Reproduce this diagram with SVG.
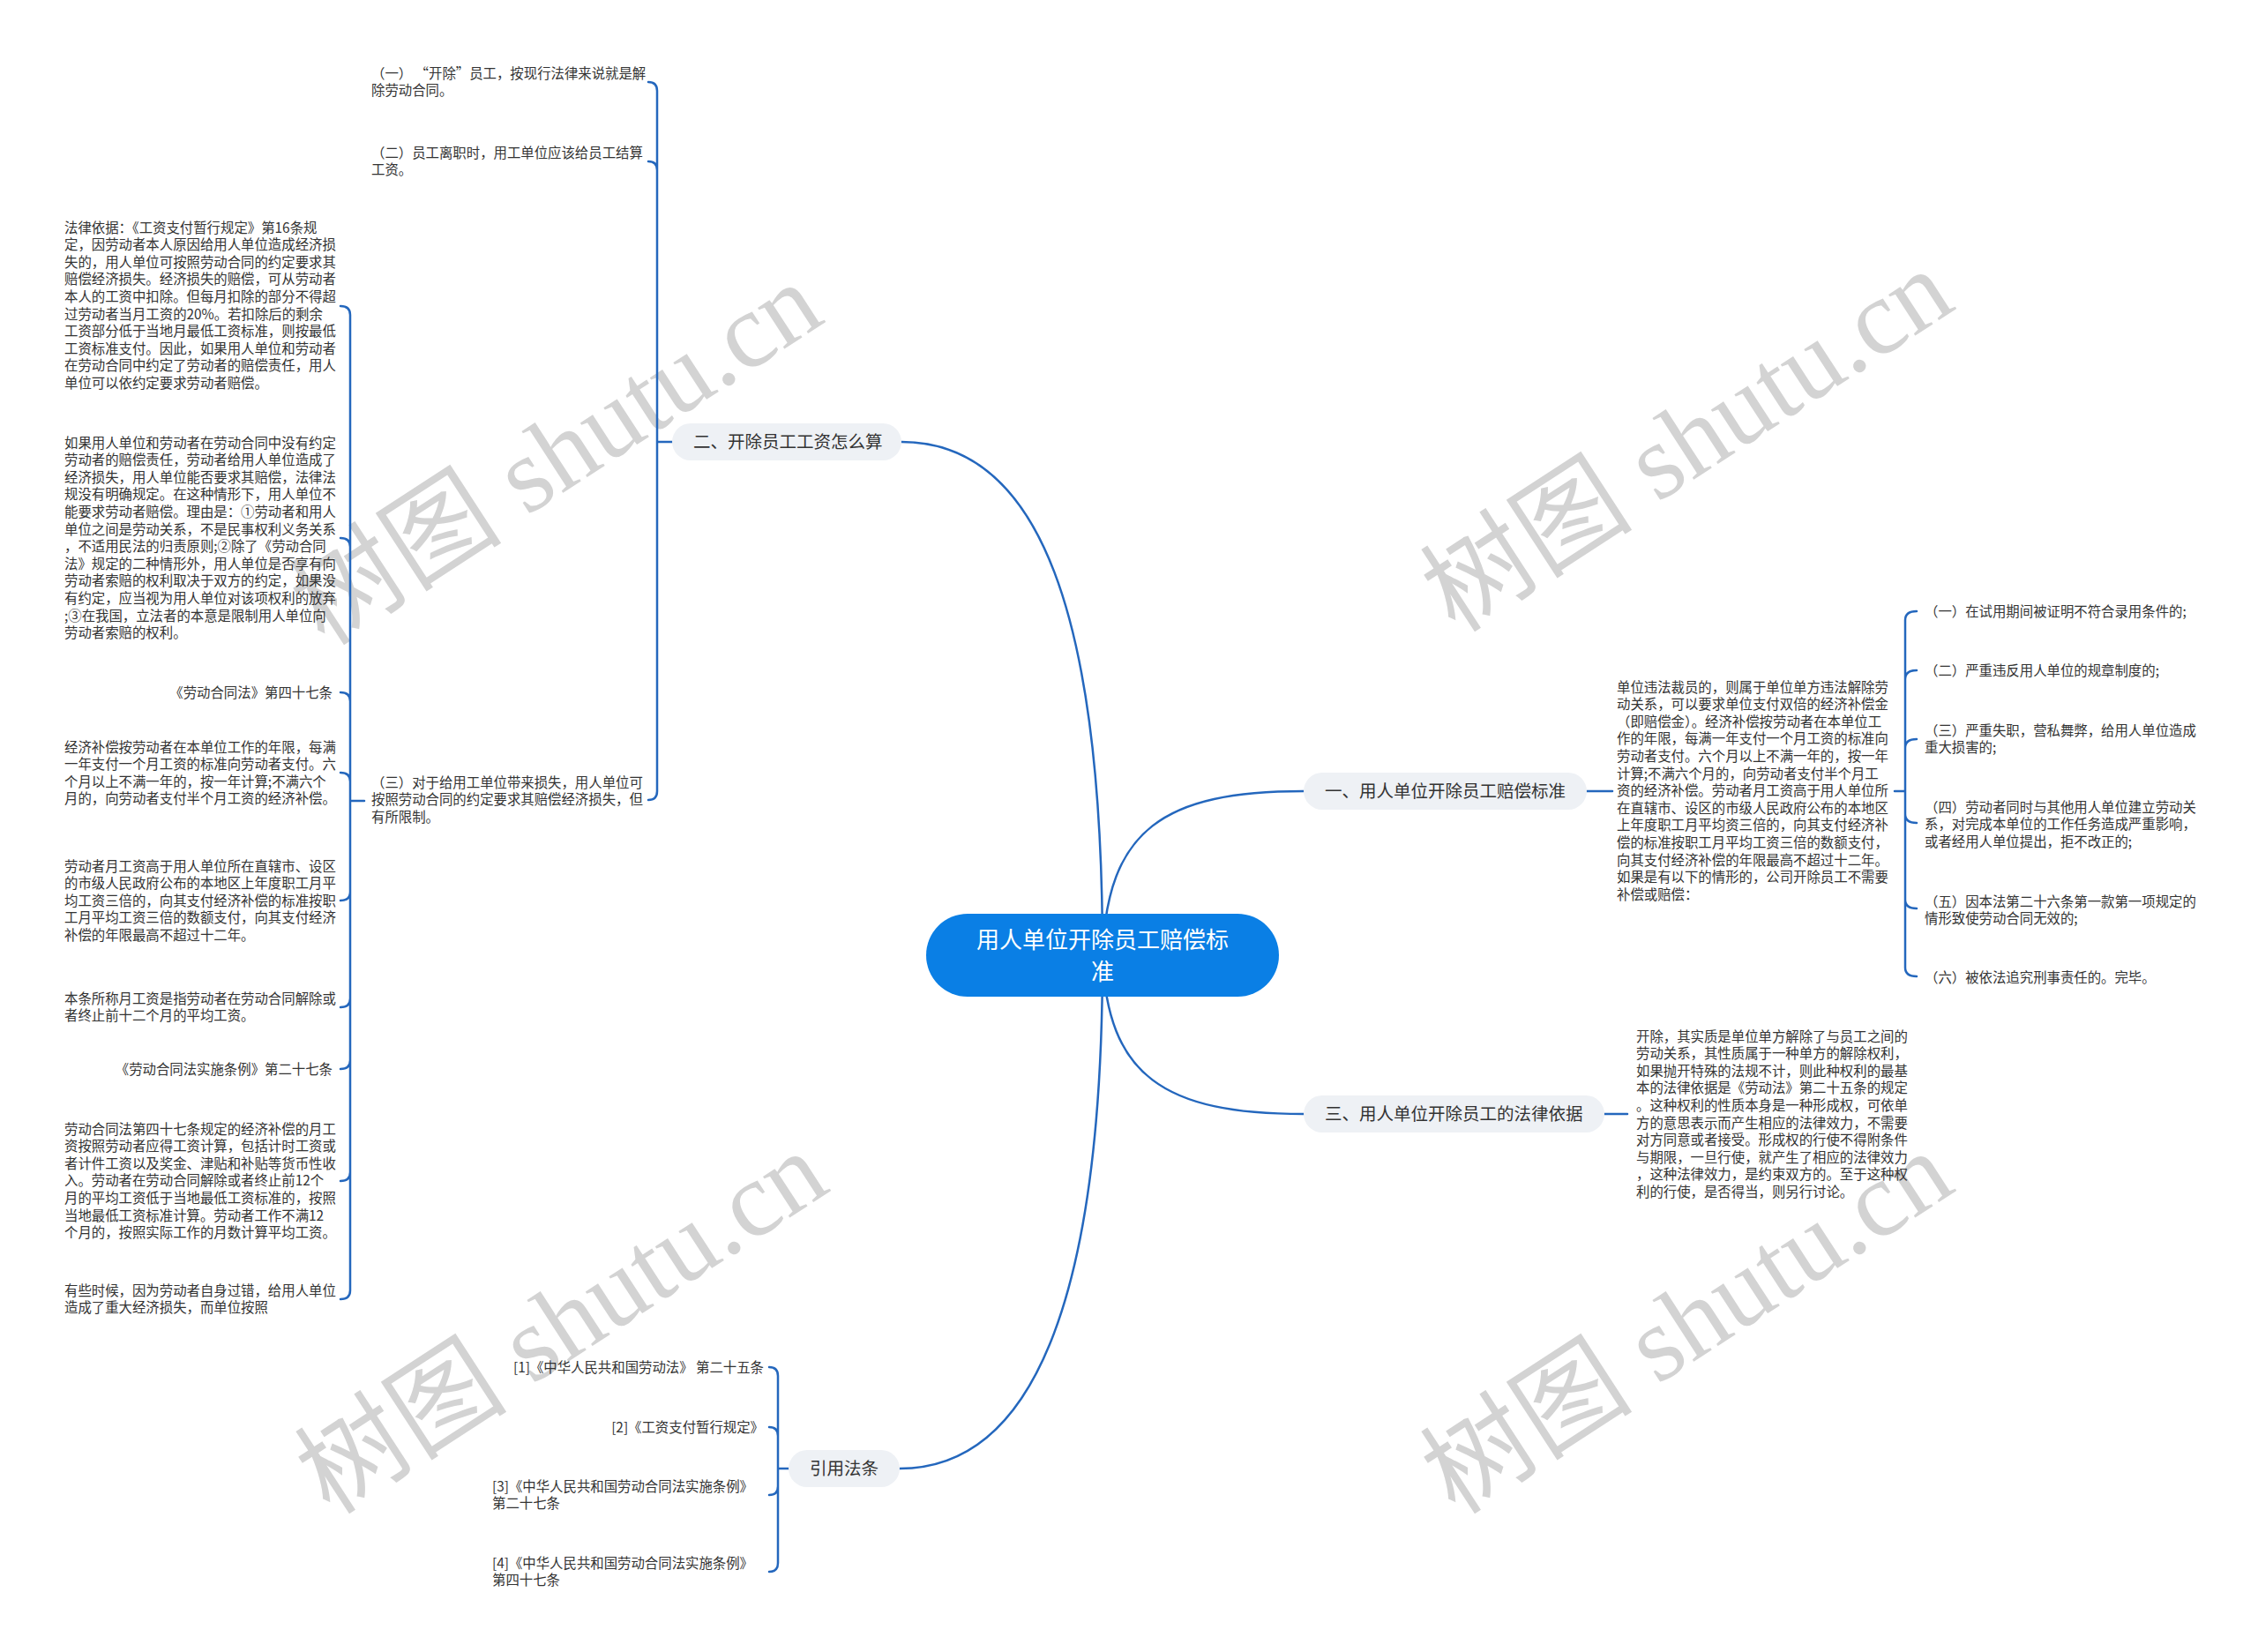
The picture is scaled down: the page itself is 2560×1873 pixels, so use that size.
<svg xmlns="http://www.w3.org/2000/svg" width="2560" height="1873" viewBox="0 0 2560 1873">
<style>
.t{font-family:"Noto Sans CJK SC","Noto Sans",sans-serif;font-size:15.4px;fill:#333}
.p{font-family:"Noto Sans CJK SC","Noto Sans",sans-serif;font-size:19.5px;fill:#333}
.pill{fill:#eef1f5}
.c{fill:none;stroke:#2467bd;stroke-width:2.5;stroke-linecap:round}
.wm{font-family:"Liberation Serif","Noto Sans CJK SC",serif;font-size:121px;fill:#d3d3d3}
</style>
<rect width="2560" height="1873" fill="#fff"/>
<g id="watermarks">
<text class="wm" text-anchor="middle" transform="translate(653,549) rotate(-33)">树图 shutu.cn</text>
<text class="wm" text-anchor="middle" transform="translate(1935,534) rotate(-33)">树图 shutu.cn</text>
<text class="wm" text-anchor="middle" transform="translate(659,1534) rotate(-33)">树图 shutu.cn</text>
<text class="wm" text-anchor="middle" transform="translate(1935,1534) rotate(-33)">树图 shutu.cn</text>
</g>
<g id="connectors">
<path class="c" d="M1250,1083 C1250,700 1180,501 1022,501"/>
<path class="c" d="M1250,1083 C1255,940 1320,897 1478,897"/>
<path class="c" d="M1250,1083 C1255,1220 1320,1263 1478,1263"/>
<path class="c" d="M1250,1083 C1250,1450 1180,1665 1020,1665"/>
<path class="c" d="M762,501 H745 M745,103 V897 M735,93 Q745,93 745,103 M735,183 Q745,183 745,193 M735,907 Q745,907 745,897"/>
<path class="c" d="M413,908 H397 M397,357 V1463 M386,347 Q397,347 397,357 M386,610 Q397,610 397,620 M386,785 Q397,785 397,795 M386,876 Q397,876 397,886 M386,1021 Q397,1021 397,1011 M386,1142 Q397,1142 397,1132 M386,1212 Q397,1212 397,1202 M386,1339 Q397,1339 397,1329 M386,1473 Q397,1473 397,1463"/>
<path class="c" d="M1799,897 H1828"/>
<path class="c" d="M2148,897 H2160 M2160,703 V1097 M2173,693 Q2160,693 2160,703 M2173,760 Q2160,760 2160,770 M2173,838 Q2160,838 2160,848 M2173,933 Q2160,933 2160,923 M2173,1030 Q2160,1030 2160,1020 M2173,1107 Q2160,1107 2160,1097"/>
<path class="c" d="M1819,1263 H1845"/>
<path class="c" d="M894,1665 H882 M882,1560 V1772 M872,1550 Q882,1550 882,1560 M872,1618 Q882,1618 882,1628 M872,1695 Q882,1695 882,1685 M872,1782 Q882,1782 882,1772"/>
</g>
<g id="center">
<rect x="1050" y="1036" width="400" height="94" rx="47" fill="#0a7fe5"/>
<text x="1250" y="1075" text-anchor="middle" font-family="Noto Sans CJK SC, sans-serif" font-size="26" fill="#fff">用人单位开除员工赔偿标</text>
<text x="1250" y="1111" text-anchor="middle" font-family="Noto Sans CJK SC, sans-serif" font-size="26" fill="#fff">准</text>
</g>
<g id="b2">
<rect class="pill" x="762" y="480" width="260" height="42" rx="21"/>
<text class="p" x="786" y="508">二、开除员工工资怎么算</text>
</g>
<g id="b1">
<rect class="pill" x="1478" y="876" width="321" height="42" rx="21"/>
<text class="p" x="1502" y="904">一、用人单位开除员工赔偿标准</text>
</g>
<g id="b3">
<rect class="pill" x="1478" y="1242" width="341" height="42" rx="21"/>
<text class="p" x="1502" y="1270">三、用人单位开除员工的法律依据</text>
</g>
<g id="b4">
<rect class="pill" x="894" y="1644" width="126" height="42" rx="21"/>
<text class="p" x="918" y="1672">引用法条</text>
</g>
<g id="n2-1"><text class="t" x="421" y="88.5"><tspan x="421">（一） “开除”员工，按现行法律来说就是解</tspan><tspan x="421" dy="19.6">除劳动合同。</tspan></text></g>
<g id="n2-2"><text class="t" x="421" y="178.5"><tspan x="421">（二）员工离职时，用工单位应该给员工结算</tspan><tspan x="421" dy="19.6">工资。</tspan></text></g>
<g id="n2-3"><text class="t" x="421" y="892.5"><tspan x="421">（三）对于给用工单位带来损失，用人单位可</tspan><tspan x="421" dy="19.6">按照劳动合同的约定要求其赔偿经济损失，但</tspan><tspan x="421" dy="19.6">有所限制。</tspan></text></g>
<g id="n3-1"><text class="t" x="73" y="263.5"><tspan x="73">法律依据：《工资支付暂行规定》第16条规</tspan><tspan x="73" dy="19.6">定，因劳动者本人原因给用人单位造成经济损</tspan><tspan x="73" dy="19.6">失的，用人单位可按照劳动合同的约定要求其</tspan><tspan x="73" dy="19.6">赔偿经济损失。经济损失的赔偿，可从劳动者</tspan><tspan x="73" dy="19.6">本人的工资中扣除。但每月扣除的部分不得超</tspan><tspan x="73" dy="19.6">过劳动者当月工资的20%。若扣除后的剩余</tspan><tspan x="73" dy="19.6">工资部分低于当地月最低工资标准，则按最低</tspan><tspan x="73" dy="19.6">工资标准支付。因此，如果用人单位和劳动者</tspan><tspan x="73" dy="19.6">在劳动合同中约定了劳动者的赔偿责任，用人</tspan><tspan x="73" dy="19.6">单位可以依约定要求劳动者赔偿。</tspan></text></g>
<g id="n3-2"><text class="t" x="73" y="507.5"><tspan x="73">如果用人单位和劳动者在劳动合同中没有约定</tspan><tspan x="73" dy="19.6">劳动者的赔偿责任，劳动者给用人单位造成了</tspan><tspan x="73" dy="19.6">经济损失，用人单位能否要求其赔偿，法律法</tspan><tspan x="73" dy="19.6">规没有明确规定。在这种情形下，用人单位不</tspan><tspan x="73" dy="19.6">能要求劳动者赔偿。理由是：①劳动者和用人</tspan><tspan x="73" dy="19.6">单位之间是劳动关系，不是民事权利义务关系</tspan><tspan x="73" dy="19.6">，不适用民法的归责原则;②除了《劳动合同</tspan><tspan x="73" dy="19.6">法》规定的二种情形外，用人单位是否享有向</tspan><tspan x="73" dy="19.6">劳动者索赔的权利取决于双方的约定，如果没</tspan><tspan x="73" dy="19.6">有约定，应当视为用人单位对该项权利的放弃</tspan><tspan x="73" dy="19.6">;③在我国，立法者的本意是限制用人单位向</tspan><tspan x="73" dy="19.6">劳动者索赔的权利。</tspan></text></g>
<g id="n3-3"><text class="t" x="377" y="790.5" text-anchor="end">《劳动合同法》第四十七条</text></g>
<g id="n3-4"><text class="t" x="73" y="852.5"><tspan x="73">经济补偿按劳动者在本单位工作的年限，每满</tspan><tspan x="73" dy="19.6">一年支付一个月工资的标准向劳动者支付。六</tspan><tspan x="73" dy="19.6">个月以上不满一年的，按一年计算;不满六个</tspan><tspan x="73" dy="19.6">月的，向劳动者支付半个月工资的经济补偿。</tspan></text></g>
<g id="n3-5"><text class="t" x="73" y="987.5"><tspan x="73">劳动者月工资高于用人单位所在直辖市、设区</tspan><tspan x="73" dy="19.6">的市级人民政府公布的本地区上年度职工月平</tspan><tspan x="73" dy="19.6">均工资三倍的，向其支付经济补偿的标准按职</tspan><tspan x="73" dy="19.6">工月平均工资三倍的数额支付，向其支付经济</tspan><tspan x="73" dy="19.6">补偿的年限最高不超过十二年。</tspan></text></g>
<g id="n3-6"><text class="t" x="73" y="1137.5"><tspan x="73">本条所称月工资是指劳动者在劳动合同解除或</tspan><tspan x="73" dy="19.6">者终止前十二个月的平均工资。</tspan></text></g>
<g id="n3-7"><text class="t" x="377" y="1217.5" text-anchor="end">《劳动合同法实施条例》第二十七条</text></g>
<g id="n3-8"><text class="t" x="73" y="1285.5"><tspan x="73">劳动合同法第四十七条规定的经济补偿的月工</tspan><tspan x="73" dy="19.6">资按照劳动者应得工资计算，包括计时工资或</tspan><tspan x="73" dy="19.6">者计件工资以及奖金、津贴和补贴等货币性收</tspan><tspan x="73" dy="19.6">入。劳动者在劳动合同解除或者终止前12个</tspan><tspan x="73" dy="19.6">月的平均工资低于当地最低工资标准的，按照</tspan><tspan x="73" dy="19.6">当地最低工资标准计算。劳动者工作不满12</tspan><tspan x="73" dy="19.6">个月的，按照实际工作的月数计算平均工资。</tspan></text></g>
<g id="n3-9"><text class="t" x="73" y="1468.5"><tspan x="73">有些时候，因为劳动者自身过错，给用人单位</tspan><tspan x="73" dy="19.6">造成了重大经济损失，而单位按照</tspan></text></g>
<g id="n1-1"><text class="t" x="1833" y="784.5"><tspan x="1833">单位违法裁员的，则属于单位单方违法解除劳</tspan><tspan x="1833" dy="19.6">动关系，可以要求单位支付双倍的经济补偿金</tspan><tspan x="1833" dy="19.6">（即赔偿金）。经济补偿按劳动者在本单位工</tspan><tspan x="1833" dy="19.6">作的年限，每满一年支付一个月工资的标准向</tspan><tspan x="1833" dy="19.6">劳动者支付。六个月以上不满一年的，按一年</tspan><tspan x="1833" dy="19.6">计算;不满六个月的，向劳动者支付半个月工</tspan><tspan x="1833" dy="19.6">资的经济补偿。劳动者月工资高于用人单位所</tspan><tspan x="1833" dy="19.6">在直辖市、设区的市级人民政府公布的本地区</tspan><tspan x="1833" dy="19.6">上年度职工月平均资三倍的，向其支付经济补</tspan><tspan x="1833" dy="19.6">偿的标准按职工月平均工资三倍的数额支付，</tspan><tspan x="1833" dy="19.6">向其支付经济补偿的年限最高不超过十二年。</tspan><tspan x="1833" dy="19.6">如果是有以下的情形的，公司开除员工不需要</tspan><tspan x="1833" dy="19.6">补偿或赔偿：</tspan></text></g>
<g id="n1-a"><text class="t" x="2182" y="698.5">（一）在试用期间被证明不符合录用条件的;</text></g>
<g id="n1-b"><text class="t" x="2182" y="765.5">（二）严重违反用人单位的规章制度的;</text></g>
<g id="n1-c"><text class="t" x="2182" y="833.5"><tspan x="2182">（三）严重失职，营私舞弊，给用人单位造成</tspan><tspan x="2182" dy="19.6">重大损害的;</tspan></text></g>
<g id="n1-d"><text class="t" x="2182" y="920.5"><tspan x="2182">（四）劳动者同时与其他用人单位建立劳动关</tspan><tspan x="2182" dy="19.6">系，对完成本单位的工作任务造成严重影响，</tspan><tspan x="2182" dy="19.6">或者经用人单位提出，拒不改正的;</tspan></text></g>
<g id="n1-e"><text class="t" x="2182" y="1027.5"><tspan x="2182">（五）因本法第二十六条第一款第一项规定的</tspan><tspan x="2182" dy="19.6">情形致使劳动合同无效的;</tspan></text></g>
<g id="n1-f"><text class="t" x="2182" y="1113.5">（六）被依法追究刑事责任的。完毕。</text></g>
<g id="n4-1"><text class="t" x="1855" y="1180.5"><tspan x="1855">开除，其实质是单位单方解除了与员工之间的</tspan><tspan x="1855" dy="19.6">劳动关系，其性质属于一种单方的解除权利，</tspan><tspan x="1855" dy="19.6">如果抛开特殊的法规不计，则此种权利的最基</tspan><tspan x="1855" dy="19.6">本的法律依据是《劳动法》第二十五条的规定</tspan><tspan x="1855" dy="19.6">。这种权利的性质本身是一种形成权，可依单</tspan><tspan x="1855" dy="19.6">方的意思表示而产生相应的法律效力，不需要</tspan><tspan x="1855" dy="19.6">对方同意或者接受。形成权的行使不得附条件</tspan><tspan x="1855" dy="19.6">与期限，一旦行使，就产生了相应的法律效力</tspan><tspan x="1855" dy="19.6">，这种法律效力，是约束双方的。至于这种权</tspan><tspan x="1855" dy="19.6">利的行使，是否得当，则另行讨论。</tspan></text></g>
<g id="r1"><text class="t" x="866" y="1555.5" text-anchor="end">[1]《中华人民共和国劳动法》 第二十五条</text></g>
<g id="r2"><text class="t" x="866" y="1623.5" text-anchor="end">[2]《工资支付暂行规定》</text></g>
<g id="r3"><text class="t" x="558" y="1690.5"><tspan x="558">[3]《中华人民共和国劳动合同法实施条例》</tspan><tspan x="558" dy="19.6">第二十七条</tspan></text></g>
<g id="r4"><text class="t" x="558" y="1777.5"><tspan x="558">[4]《中华人民共和国劳动合同法实施条例》</tspan><tspan x="558" dy="19.6">第四十七条</tspan></text></g>
</svg>
